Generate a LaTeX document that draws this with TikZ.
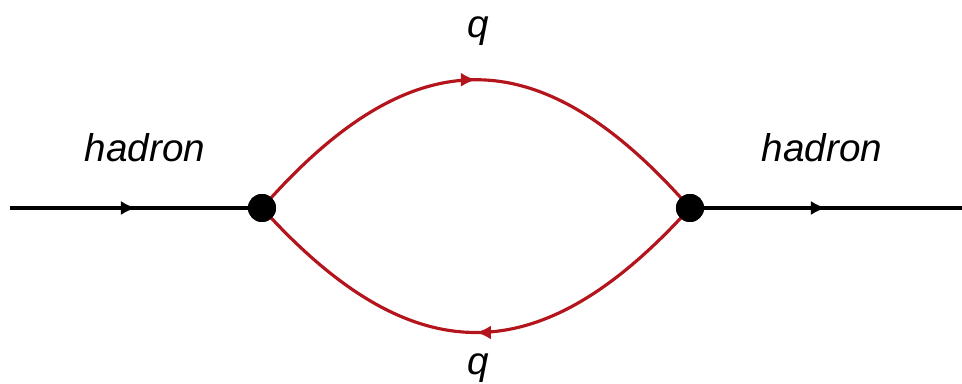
\documentclass[tikz,border=0pt]{standalone}
\usepackage{fontspec}
\setmainfont{Liberation Sans}
\usetikzlibrary{decorations.markings,arrows.meta}
\definecolor{quarkred}{RGB}{180,20,28}
\tikzset{
  vertex/.style={circle,fill=black,inner sep=0pt,minimum size=2.8mm},
  midarrow/.style={postaction={decorate},decoration={markings,
    mark=at position .5 with {\arrow[#1]{Latex[length=1.5mm,width=1.4mm]}}}},
  hadronline/.style={line width=.9pt,midarrow=black},
  quarkline/.style={line width=.9pt,draw=quarkred,midarrow=quarkred},
  lbl/.style={anchor=base,inner sep=0pt,font=\fontsize{11}{13}\selectfont\itshape}
}
\begin{document}
\begin{tikzpicture}[x=.1mm,y=-.1mm]
  \useasboundingbox (0,0) rectangle (962,384);
  \coordinate (in) at (10,208); \coordinate (out) at (962,208);
  \node[vertex] (L) at (262,208) {}; \node[vertex] (R) at (690,208) {};
  \draw[hadronline] (in)--(L.center);
  \draw[hadronline] (R.center)--(out);
  \draw[quarkline] (L.center) .. controls (412,37) and (540,37) .. (R.center);
  \draw[quarkline] (R.center) .. controls (540,374) and (412,374) .. (L.center);
  \node[vertex] at (L) {}; \node[vertex] at (R) {};
  \node[lbl] (qtop) at (478,38) {q};
  \node[lbl] (qbot) at (478,375) {q};
  \node[lbl] (hin) at (145,162) {hadron};
  \node[lbl] (hout) at (822,162) {hadron};
\end{tikzpicture}
\end{document}
